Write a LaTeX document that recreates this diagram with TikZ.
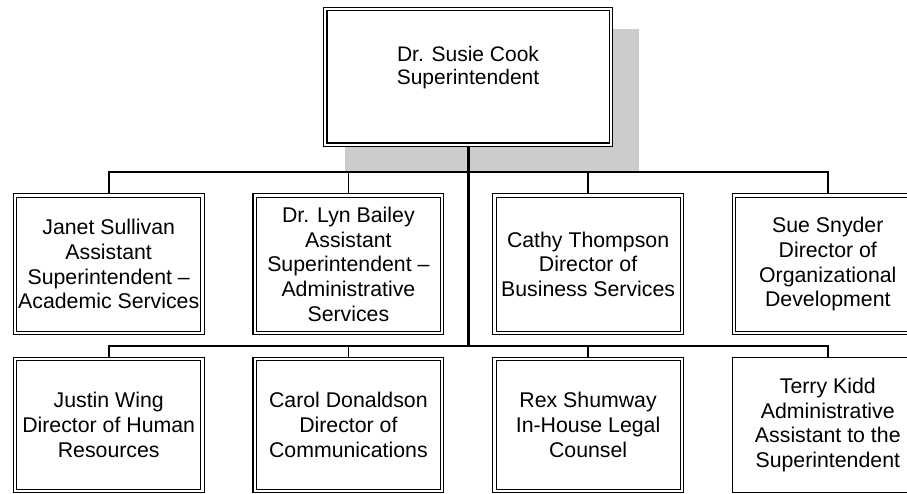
\documentclass[tikz,border=0pt]{standalone}
\usepackage{fontspec}
\setmainfont{Liberation Sans}
\usepackage{tikz}
\usetikzlibrary{positioning, calc, backgrounds}
\definecolor{shadegray}{RGB}{204, 204, 204}
\tikzset{
    postbase/.style={
        rectangle,
        align=center,
        inner sep=1pt,
        draw=black,
        fill=white,
        font=\fontsize{21.3}{24.7}\selectfont
    },
    post/.style={
        postbase,
        minimum width=187.5pt,
        minimum height=137.2pt,
        line width=1.1pt,
        double,
        double distance=2.3pt,
        outer sep=2.25pt
    },
    lowpost/.style={
        post,
        minimum height=131.8pt
    },
    lonepost/.style={
        postbase,
        minimum width=190.7pt,
        minimum height=135pt,
        line width=1.3pt,
        outer sep=0.65pt
    },
    link/.style={
        line width=1.7pt,
        color=black
    },
    trunk/.style={
        line width=3pt,
        color=black
    }
}

\begin{document}
\begin{tikzpicture}[x=1pt, y=1pt]
    \useasboundingbox (0,0) rectangle (907,494);

        % --- TOP ---
        \node (boss) [post, minimum width=285.5pt, minimum height=135.5pt, font=\fontsize{21}{23.5}\selectfont] at (468,417) {Dr. Susie Cook \\ Superintendent \\ ~};

        % --- FIRST ROW ---
        \node (janet) [post] at (108.7,229.8) {Janet Sullivan \\ Assistant \\ Superintendent -- \\ Academic Services};
        \node (lyn) [post, right=47.7pt of janet] {Dr. Lyn Bailey \\ Assistant \\ Superintendent -- \\ Administrative \\ Services};
        \node (cathy) [post, right=47.7pt of lyn] {Cathy Thompson \\ Director of \\ Business Services};
        \node (sue) [post, right=47.7pt of cathy] {Sue Snyder \\ Director of \\ Organizational \\ Development};

        % --- SECOND ROW ---
        \node (justin) [lowpost, below=21.7pt of janet] {Justin Wing \\ Director of Human \\ Resources};
        \node (carol) [lowpost, below=21.7pt of lyn] {Carol Donaldson \\ Director of \\ Communications};
        \node (rex) [lowpost, below=21.7pt of cathy] {Rex Shumway \\ In-House Legal \\ Counsel};
        \node (terry) [lonepost, below=21.7pt of sue] {Terry Kidd \\ Administrative \\ Assistant to the \\ Superintendent};

        % shadow behind the top box
        \begin{scope}[on background layer]
            \fill [shadegray] ($(boss.north west)+(21.75,-21.75)$) rectangle ($(boss.south east)+(26.25,-26.25)$);
        \end{scope}

        % --- CONNECTORS ---
        \coordinate (busone) at ($(boss.south)+(0,-25)$);
        \coordinate (bustwo) at (boss.south |- {$(janet.south)!0.5!(justin.north)$});

        \draw [link] (busone) -| (janet.north);
        \draw [link] (busone) -| (lyn.north);
        \draw [link] (busone) -| (cathy.north);
        \draw [link] (busone) -| (sue.north);

        \draw [link] (bustwo) -| (justin.north);
        \draw [link] (bustwo) -| (carol.north);
        \draw [link] (bustwo) -| (rex.north);
        \draw [link] (bustwo) -| (terry.north);

        \draw [trunk] (boss.south) -- (bustwo);
    \end{tikzpicture}
\end{document}
